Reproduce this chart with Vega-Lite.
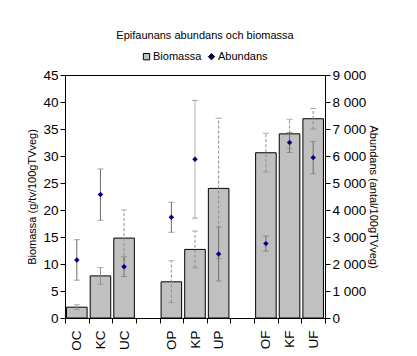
{
  "$schema": "https://vega.github.io/schema/vega-lite/v6.json",
  "width": 260,
  "height": 243,
  "autosize": "none",
  "padding": {"left": 65, "top": 75, "right": 92, "bottom": 38},
  "background": "white",
  "config": {
    "font": "Liberation Sans",
    "view": {"stroke": "black", "strokeWidth": 1},
    "axis": {
      "labelFont": "Liberation Sans",
      "titleFont": "Liberation Sans",
      "labelColor": "black",
      "titleColor": "black",
      "domainColor": "black",
      "tickColor": "black",
      "grid": false,
      "titleFontWeight": "normal",
      "titleFontSize": 11,
      "labelFontSize": 13.5,
      "tickSize": 5
    },
    "legend": {
      "labelFont": "Liberation Sans",
      "labelFontSize": 11,
      "labelColor": "black"
    }
  },
  "title": {
    "text": "Epifaunans abundans och biomassa",
    "font": "Liberation Sans",
    "fontSize": 11,
    "fontWeight": "normal",
    "color": "black",
    "anchor": "middle",
    "dx": 10,
    "offset": 10
  },
  "data": {
    "values": [
      {"cat": "OC", "bio": 2.0, "bioLo": 1.55, "bioHi": 2.45, "abu": 2150, "abuLo": 1400, "abuHi": 2900},
      {"cat": "KC", "bio": 7.8, "bioLo": 6.25, "bioHi": 9.35, "abu": 4570, "abuLo": 3620, "abuHi": 5520},
      {"cat": "UC", "bio": 14.8, "bioLo": 9.6, "bioHi": 20.0, "abu": 1900, "abuLo": 1535, "abuHi": 2265},
      {"cat": "OP", "bio": 6.7, "bioLo": 2.85, "bioHi": 10.6, "abu": 3730, "abuLo": 3175, "abuHi": 4285},
      {"cat": "KP", "bio": 12.7, "bioLo": 9.3, "bioHi": 16.1, "abu": 5880, "abuLo": 3700, "abuHi": 8060},
      {"cat": "UP", "bio": 24.0, "bioLo": 11.0, "bioHi": 37.0, "abu": 2370, "abuLo": 1370, "abuHi": 3370},
      {"cat": "OF", "bio": 30.6, "bioLo": 27.0, "bioHi": 34.2, "abu": 2755, "abuLo": 2475, "abuHi": 3035},
      {"cat": "KF", "bio": 34.1, "bioLo": 31.4, "bioHi": 36.8, "abu": 6500, "abuLo": 6130, "abuHi": 6870},
      {"cat": "UF", "bio": 36.9, "bioLo": 35.0, "bioHi": 38.8, "abu": 5940, "abuLo": 5340, "abuHi": 6540}
    ]
  },
  "encoding": {
    "x": {
      "field": "cat",
      "type": "nominal",
      "sort": null,
      "scale": {
        "domain": ["OC", "KC", "UC", "gap1", "OP", "KP", "UP", "gap2", "OF", "KF", "UF"],
        "paddingInner": 0,
        "paddingOuter": 0
      },
      "axis": {
        "title": null,
        "orient": "bottom",
        "tickBand": "extent",
        "labelAngle": -90,
        "labelAlign": "right",
        "labelBaseline": "middle",
        "labelPadding": 7,
        "labelExpr": "datum.label === 'gap1' || datum.label === 'gap2' ? '' : datum.label"
      }
    }
  },
  "layer": [
    {
      "layer": [
        {
          "mark": {"type": "bar", "fill": "#c0c0c0", "stroke": "black", "strokeWidth": 1, "width": {"band": 0.87}},
          "encoding": {
            "y": {
              "field": "bio",
              "type": "quantitative",
              "scale": {"domain": [0, 45], "nice": false},
              "axis": {"orient": "left", "title": "Biomassa (g/tv/100gTVveg)", "values": [0, 5, 10, 15, 20, 25, 30, 35, 40, 45], "labelOverlap": false, "labelFlush": false, "titlePadding": 5, "labelPadding": 2}
            },
            "color": {
              "datum": "Biomassa",
              "scale": {"domain": ["Biomassa", "Abundans"], "range": ["#c0c0c0", "#000080"]},
              "legend": {
                "title": null,
                "orient": "none",
                "legendX": 76,
                "legendY": -24,
                "direction": "horizontal",
                "labelOffset": 1,
                "columnPadding": 4,
                "symbolSize": 40,
                "symbolStrokeWidth": 1
              }
            }
          }
        },
        {
          "transform": [{"filter": "datum.cat === 'OC' || datum.cat === 'KC'"}],
          "mark": {"type": "rule", "color": "#8c8c8c"},
          "encoding": {
            "y": {
              "field": "bioLo",
              "type": "quantitative",
              "scale": {"domain": [0, 45], "nice": false},
              "axis": {"orient": "left", "title": "Biomassa (g/tv/100gTVveg)", "values": [0, 5, 10, 15, 20, 25, 30, 35, 40, 45], "labelOverlap": false, "labelFlush": false, "titlePadding": 5, "labelPadding": 2}
            },
            "y2": {"field": "bioHi"}
          }
        },
        {
          "transform": [{"filter": "datum.cat !== 'OC' && datum.cat !== 'KC'"}],
          "mark": {"type": "rule", "color": "#8c8c8c", "strokeDash": [3, 2]},
          "encoding": {
            "y": {
              "field": "bioLo",
              "type": "quantitative",
              "scale": {"domain": [0, 45], "nice": false},
              "axis": {"orient": "left", "title": "Biomassa (g/tv/100gTVveg)", "values": [0, 5, 10, 15, 20, 25, 30, 35, 40, 45], "labelOverlap": false, "labelFlush": false, "titlePadding": 5, "labelPadding": 2}
            },
            "y2": {"field": "bioHi"}
          }
        },
        {
          "mark": {"type": "tick", "color": "#8c8c8c", "size": 6, "thickness": 1},
          "encoding": {
            "y": {
              "field": "bioLo",
              "type": "quantitative",
              "scale": {"domain": [0, 45], "nice": false},
              "axis": {"orient": "left", "title": "Biomassa (g/tv/100gTVveg)", "values": [0, 5, 10, 15, 20, 25, 30, 35, 40, 45], "labelOverlap": false, "labelFlush": false, "titlePadding": 5, "labelPadding": 2}
            }
          }
        },
        {
          "mark": {"type": "tick", "color": "#8c8c8c", "size": 6, "thickness": 1},
          "encoding": {
            "y": {
              "field": "bioHi",
              "type": "quantitative",
              "scale": {"domain": [0, 45], "nice": false},
              "axis": {"orient": "left", "title": "Biomassa (g/tv/100gTVveg)", "values": [0, 5, 10, 15, 20, 25, 30, 35, 40, 45], "labelOverlap": false, "labelFlush": false, "titlePadding": 5, "labelPadding": 2}
            }
          }
        }
      ]
    },
    {
      "layer": [
        {
          "transform": [{"filter": "datum.cat !== 'KP'"}],
          "mark": {"type": "rule", "color": "#6e6e6e"},
          "encoding": {
            "y": {
              "field": "abuLo",
              "type": "quantitative",
              "scale": {"domain": [0, 9000], "nice": false},
              "axis": {"orient": "right", "title": "Abundans (antal/100gTVveg)", "values": [0, 1000, 2000, 3000, 4000, 5000, 6000, 7000, 8000, 9000], "labelExpr": "replace(format(datum.value, ','), ',', ' ')", "labelOverlap": false, "labelFlush": false, "titlePadding": 2, "labelPadding": 2}
            },
            "y2": {"field": "abuHi"}
          }
        },
        {
          "transform": [{"filter": "datum.cat === 'KP'"}],
          "mark": {"type": "rule", "color": "#b4b4b4"},
          "encoding": {
            "y": {
              "field": "abuLo",
              "type": "quantitative",
              "scale": {"domain": [0, 9000], "nice": false},
              "axis": {"orient": "right", "title": "Abundans (antal/100gTVveg)", "values": [0, 1000, 2000, 3000, 4000, 5000, 6000, 7000, 8000, 9000], "labelExpr": "replace(format(datum.value, ','), ',', ' ')", "labelOverlap": false, "labelFlush": false, "titlePadding": 2, "labelPadding": 2}
            },
            "y2": {"field": "abuHi"}
          }
        },
        {
          "mark": {"type": "tick", "color": "#7a7a7a", "size": 6, "thickness": 1},
          "encoding": {
            "y": {
              "field": "abuLo",
              "type": "quantitative",
              "scale": {"domain": [0, 9000], "nice": false},
              "axis": {"orient": "right", "title": "Abundans (antal/100gTVveg)", "values": [0, 1000, 2000, 3000, 4000, 5000, 6000, 7000, 8000, 9000], "labelExpr": "replace(format(datum.value, ','), ',', ' ')", "labelOverlap": false, "labelFlush": false, "titlePadding": 2, "labelPadding": 2}
            }
          }
        },
        {
          "mark": {"type": "tick", "color": "#7a7a7a", "size": 6, "thickness": 1},
          "encoding": {
            "y": {
              "field": "abuHi",
              "type": "quantitative",
              "scale": {"domain": [0, 9000], "nice": false},
              "axis": {"orient": "right", "title": "Abundans (antal/100gTVveg)", "values": [0, 1000, 2000, 3000, 4000, 5000, 6000, 7000, 8000, 9000], "labelExpr": "replace(format(datum.value, ','), ',', ' ')", "labelOverlap": false, "labelFlush": false, "titlePadding": 2, "labelPadding": 2}
            }
          }
        },
        {
          "mark": {"type": "point", "filled": true, "size": 30, "opacity": 1},
          "encoding": {
            "y": {
              "field": "abu",
              "type": "quantitative",
              "scale": {"domain": [0, 9000], "nice": false},
              "axis": {"orient": "right", "title": "Abundans (antal/100gTVveg)", "values": [0, 1000, 2000, 3000, 4000, 5000, 6000, 7000, 8000, 9000], "labelExpr": "replace(format(datum.value, ','), ',', ' ')", "labelOverlap": false, "labelFlush": false, "titlePadding": 2, "labelPadding": 2}
            },
            "color": {"datum": "Abundans", "scale": {"domain": ["Biomassa", "Abundans"], "range": ["#c0c0c0", "#000080"]}},
            "shape": {"datum": "Abundans", "scale": {"domain": ["Biomassa", "Abundans"], "range": ["square", "diamond"]}}
          }
        }
      ]
    }
  ],
  "resolve": {"scale": {"y": "independent"}}
}
